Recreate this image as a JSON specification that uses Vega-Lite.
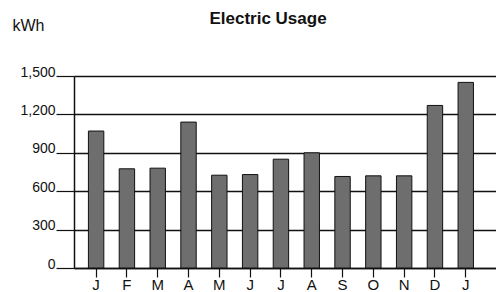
{
  "$schema": "https://vega.github.io/schema/vega-lite/v6.json",
  "width": 422,
  "height": 192,
  "autosize": "none",
  "padding": {"left": 74, "top": 76, "right": 0, "bottom": 24},
  "background": "white",
  "title": {
    "text": "Electric Usage",
    "font": "Liberation Sans",
    "fontSize": 17,
    "fontWeight": "bold",
    "color": "#111",
    "anchor": "middle",
    "frame": "group",
    "baseline": "alphabetic",
    "dx": -17,
    "offset": -24
  },
  "data": {
    "values": [
      {"month": "Jan 1", "kwh": 1070},
      {"month": "Feb", "kwh": 775},
      {"month": "Mar", "kwh": 780},
      {"month": "Apr", "kwh": 1140},
      {"month": "May", "kwh": 725},
      {"month": "Jun", "kwh": 730},
      {"month": "Jul", "kwh": 850},
      {"month": "Aug", "kwh": 900},
      {"month": "Sep", "kwh": 715},
      {"month": "Oct", "kwh": 720},
      {"month": "Nov", "kwh": 720},
      {"month": "Dec", "kwh": 1270},
      {"month": "Jan 2", "kwh": 1450}
    ]
  },
  "mark": {"type": "bar", "fill": "#6e6e6e", "stroke": "#111", "strokeWidth": 1},
  "encoding": {
    "x": {
      "field": "month",
      "type": "nominal",
      "sort": null,
      "scale": {"paddingInner": 0.5, "paddingOuter": 0.6, "align": 0.39},
      "axis": {
        "title": null,
        "labelAngle": 0,
        "labelExpr": "substring(datum.label, 0, 1)",
        "labelFont": "Liberation Sans",
        "labelFontSize": 15,
        "labelColor": "#111",
        "tickSize": 9,
        "tickColor": "#111",
        "tickWidth": 1.2,
        "labelPadding": 0,
        "domainColor": "#111",
        "domainWidth": 1.5
      }
    },
    "y": {
      "field": "kwh",
      "type": "quantitative",
      "scale": {"domain": [0, 1500], "nice": false},
      "axis": {
        "values": [0, 300, 600, 900, 1200, 1500],
        "format": ",.0f",
        "title": "kWh",
        "titleAngle": 0,
        "titleX": -62,
        "titleY": -46,
        "titleAlign": "left",
        "titleBaseline": "alphabetic",
        "titleFont": "Liberation Sans",
        "titleFontSize": 16,
        "titleFontWeight": "normal",
        "titleColor": "#111",
        "labelFont": "Liberation Sans",
        "labelFontSize": 14,
        "labelColor": "#111",
        "labelBaseline": "alphabetic",
        "labelPadding": 1,
        "tickSize": 18,
        "tickColor": "#111",
        "tickWidth": 1.2,
        "grid": true,
        "gridColor": "#111",
        "gridWidth": 1.3,
        "domainColor": "#111",
        "domainWidth": 1.5
      }
    }
  },
  "config": {"view": {"stroke": null}}
}
